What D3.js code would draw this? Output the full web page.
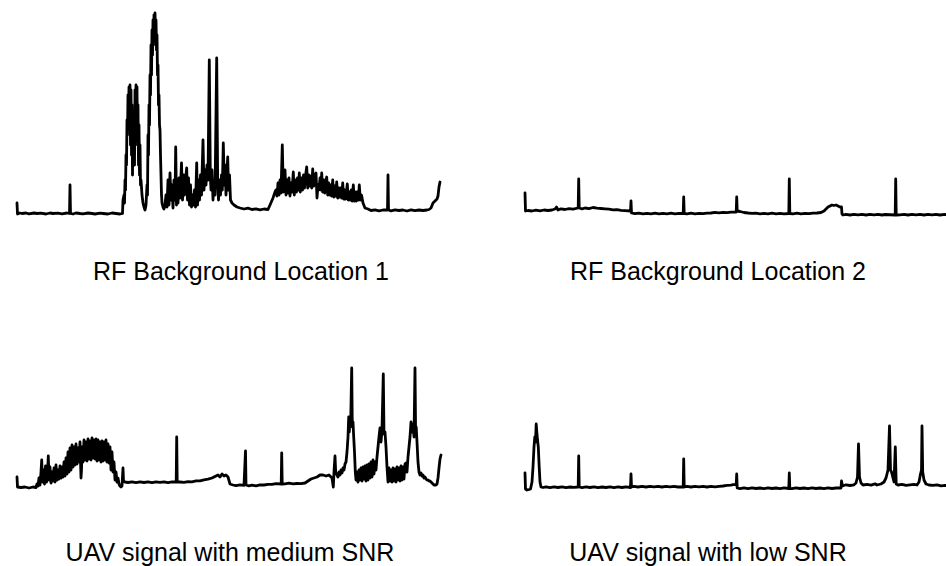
<!DOCTYPE html>
<html>
<head>
<meta charset="utf-8">
<script src="https://cdn.jsdelivr.net/npm/d3@7"></script>
<style>
  body { margin: 0; background: #fff; }
  svg { display: block; }
  .trace { fill: none; stroke: #000; stroke-width: 2.8; stroke-linejoin: round; stroke-linecap: round; }
  .caption { font-family: "Liberation Sans", Arial, sans-serif; font-size: 25px; fill: #000; text-anchor: middle; }
</style>
</head>
<body>
<div id="chart"></div>
<script>
// spectrum traces: [frequency bin, relative power]
const rfLocation1 = [
  [0,12],[0.5,1],[3,2],[5,1.5],[9,2],[12,1.2],[17,2],[20,1.5],[24,1.8],[29,1],[33,2],[36,1.5],[41,1.8],[45,1.2],[50,2],
  [52.5,1.5],[53,30],[53.5,1.5],[56,1],[59,2],[63,1.5],[66,1.2],[71,2],[75,1.5],[78,1],[83,1.8],[86,1.5],[91,1],[95,2],
  [99,1.5],[103,1],[105.5,1.5],[106,15],[107,20],[107.5,12],[108,35],[108.5,25],[109,60],[109.5,50],[110,95],
  [110.5,80],[111,120],[111.5,100],[112,128],[112.5,90],[113,130],[113.5,70],[114,125],[114.5,60],[115,110],
  [115.5,40],[116,95],[116.5,60],[117,100],[117.5,50],[118,125],[118.5,80],[119,130],[119.5,90],[120,128],
  [120.5,70],[121,110],[121.5,50],[122,90],[122.5,40],[123,70],[123.5,30],[124,35],[125,20],[126,12],[127,8],
  [128,5],[129,10],[130,30],[130.5,20],[131,80],[131.5,60],[132,110],[132.5,90],[133,140],[133.5,120],[134,170],
  [134.5,140],[135,185],[135.5,160],[136,195],[136.5,170],[137,200],[137.5,185],[138,202],[138.5,180],[139,195],
  [139.5,165],[140,180],[140.5,140],[141,150],[141.5,110],[142,120],[142.5,90],[143,85],[143.5,60],[144,40],
  [144.5,20],[145,12],[146,8],[147,6],[148,10],[149,20],[150,8],[151,35],[152,10],[153,42],[154,15],[155,30],
  [156,7],[157,35],[158,15],[158.7,68],[159.5,10],[160,30],[161,12],[162,37],[163,17],[164.5,52],[165.5,15],
  [166.5,40],[167.5,20],[168.5,35],[169.7,47],[170.5,15],[171.5,37],[172.5,10],[173.5,30],[174.5,8],[175.5,20],
  [176.5,10],[177.5,25],[178.5,8],[179.7,52],[180.5,10],[181.5,35],[182.5,15],[183.5,40],[184.5,20],[186,75],
  [187,25],[188,45],[189,30],[190,50],[191,35],[192.3,155],[193.3,40],[194,25],[195,45],[196,15],[197,35],
  [198,20],[199.7,157],[200.7,30],[201.5,15],[202.5,35],[203.5,20],[204.5,40],[205.3,25],[206.3,72],[207.3,30],
  [208,50],[209,20],[210.7,58],[211.5,25],[212.5,40],[213.5,15],[215,12],[217,10],[220,8],[223,7],[227,6],
  [231,6.8],[235,5.5],[239,6.2],[243,5.2],[247,6],[251,5.5],[253,10],[256,17],[258,23],[259,25],[260,19],[261,32],[262,20],
  [263,35],[264,22],[265.3,70],[266.3,23],[267,37],[268,45],[269,20],[270,35],[271,22],[272,37],[273,19],[274,32],
  [275,23],[276.3,43],[277.3,20],[278.5,35],[279.5,23],[280.5,37],[281.5,25],[282.3,42],[283.3,23],[284.5,37],
  [285.5,25],[286.5,40],[287.5,27],[288.5,39],[289.7,48],[290.7,27],[291.7,40],[292.7,29],[293.7,39],[294.7,27],
  [295.7,46],[296.7,29],[297.7,39],[299,42],[300,17],[301,30],[302,25],[303,37],[304,25],[304.7,42],[305.7,23],
  [306.7,35],[307.7,22],[308.7,33],[309.7,38],[310.7,20],[311.7,32],[312.7,20],[313.7,30],[314.7,19],[315.7,35],
  [316.7,18],[317.7,29],[318.7,19],[319.7,33],[320.7,17],[321.7,27],[322.7,18],[323.7,27],[324.7,17],[325.7,32],
  [326.7,16],[327.7,25],[328.7,16],[330.3,31],[331.3,15],[332.3,23],[333.3,15],[334.3,25],[335.3,14],[336.3,30],
  [337.3,14],[338.3,23],[339.3,14],[340.3,23],[341.3,15],[342.3,30],[343.3,15],[344.5,20],[346,12],[348,7],
  [351,6],[354,4.5],[358,5.2],[362,4.2],[366,5],[370.5,5],[371,40],[371.5,5],[374,4.2],[378,5.2],[382,4.5],[386,5],
  [390,4],[394,5.2],[398,4.3],[402,5],[406,4.5],[410,5],[412,5.5],[414,7],[416,12],[418,14],[420,16],[421,19],[422,28],[423,33]
];

const rfLocation2 = [
  [0,22],[0.5,4],[3,4.5],[7,4],[11,4.8],[15,4.2],[19,5],[23,4.5],[27,5],[30,6],[31.5,8],[33,5],[36,6.2],[40,5.5],
  [44,6.3],[48,5.8],[53.2,7],[53.7,36],[54.2,7],[57,6.2],[60,7],[64,6.3],[68,7.5],[72,6.8],[76,6.5],[80,6.2],[84,5.8],[88,5.2],
  [92,5.3],[96,4.6],[100,4.4],[105.5,4],[106,14],[106.5,2],[110,1.3],[114,1.8],[118,1.2],[122,1.7],[126,1.1],[130,1.8],
  [134,1.2],[138,1.7],[142,1.1],[146,1.8],[150,1.2],[154,1.6],[158.2,1.5],[158.7,18],[159.2,1.5],[162,1.2],[166,1.8],
  [170,1.2],[174,1.7],[178,1.3],[182,1.8],[186,2],[190,2.6],[194,2.2],[198,2.7],[202,2.3],[206,2.8],[211.2,3],[211.7,18],
  [212.2,4],[215,3.5],[219,2.5],[223,2],[227,1.6],[231,1.8],[235,1.2],[239,1.7],[243,1.2],[247,1.8],[251,1.2],[255,1.6],
  [259,1.2],[263.8,1.5],[264.3,36],[264.8,1.5],[268,1.2],[272,1.8],[276,1.2],[280,1.7],[284,1.3],[288,1.8],[292,2],
  [296,2.5],[299,4],[301,6],[303,8],[305,9],[307,10],[309,9.5],[311,10],[313,9],[315,8],[316.5,8],[317,1],[318,0],
  [321,0.6],[325,0],[329,0.7],[333,0.1],[337,0.6],[341,0],[345,0.7],[349,0.1],[353,0.6],[357,0],[360,0.5],[370.2,0],
  [370.7,36],[371.2,0],[375,0.2],[379,0.7],[383,0],[387,0.6],[391,0.1],[395,0.7],[399,0],[403,0.6],[407,0.1],[411,0.7],
  [415,0],[420,0.6],[424,0]
];

const uavMediumSnr = [
  [0,15],[0.5,5],[4,4.5],[8,5],[12,4],[16,5],[19,4.5],[20,8],[21,6],[22,14],[23,7],[24,20],[24.7,32],[25.5,10],
  [26.5,22],[27.5,8],[28.5,26],[29.5,10],[30.5,18],[31.3,36],[32,12],[33,25],[34,9],[35,20],[36,11],[37,24],
  [38,10],[39,27],[40,12],[41,22],[42,13],[43,26],[44,14],[45,25],[46,15],[47,30],[48,16],[49,34],[50,18],[51,40],
  [52,20],[53,44],[54,22],[55,47],[56,25],[57,45],[58,27],[59,48],[60,28],[61,44],[62,30],[63,50],[64,14],
  [64.5,22],[65,45],[66,30],[67,52],[68,32],[69,50],[70,31],[71,53],[72,33],[73,51],[74,32],[75,54],[76,34],
  [77,52],[78,33],[79,53],[80,31],[81,52],[82,32],[83,50],[84,30],[85,51],[86,31],[87,50],[88,32],[89,52],[90,30],
  [91,48],[92,29],[93,45],[94,22],[95,40],[96,20],[97,30],[98,12],[99,20],[100,10],[101,14],[102,8],[103,6],
  [104,5],[105,6],[106,24],[106.5,11],[108,10],[111,9.5],[115,10.2],[119,9.3],[123,10.2],[127,9.5],[131,10.1],[135,9.3],
  [139,10.2],[143,9.6],[147,10.2],[151,9.4],[155,10.1],[159.2,10],[159.7,55],[160.2,10],[163,10],[167,9.6],[171,10.3],
  [175,10.2],[179,11.2],[183,11.1],[187,12.2],[191,12.8],[195,14],[199,16],[201,17],[203,15],[205,18],[207,16],[209,17],
  [211,15],[213,8],[216,7],[219,6.3],[223,7.2],[227,6.6],[228.5,41],[229,7],[232,6.2],[235,6.8],[239,6.2],[243,7.2],
  [247,7],[251,7.7],[255,7.6],[259,8.3],[264.2,8],[264.7,39],[265.2,8],[268,8.2],[272,8.8],[276,8.1],[280,8.5],[284,8.3],
  [288,9],[291,11],[294,13],[297,14],[300,15],[303,17],[306,17],[309,16],[312,17],[315,14],[316.3,5],[317,20],
  [318,36],[318.7,20],[319.5,18],[321,15],[322,20],[323,17],[324,22],[325,19],[326,24],[327,22],[328,28],[329,30],
  [330,40],[331,55],[331.7,75],[332.3,60],[333,72],[333.7,70],[334.7,124],[335.3,65],[336,70],[336.7,55],
  [337.5,40],[338.3,20],[339,12],[340,20],[341,10],[342,22],[343,12],[344,24],[345,11],[346,25],[347,13],[348,26],
  [349,11],[350,27],[351,12],[352,28],[353,14],[354,30],[355,15],[356,32],[357,18],[358,30],[359,22],[360,35],
  [361,45],[362,55],[363,64],[364,50],[365,62],[366.3,118],[367,58],[368,60],[369,45],[370,25],[371,10],[372,24],
  [373,11],[374,22],[375,10],[376,24],[377,11],[378,23],[379,10],[380,25],[381,12],[382,24],[383,11],[384,26],
  [385,12],[386,25],[387,13],[388,28],[389,29],[390,20],[391,35],[392,45],[393,55],[394,70],[395,60],[396,68],
  [397,55],[398,124],[398.6,60],[399.2,65],[400,50],[401,30],[402,20],[403,17],[404,19],[405,16],[406,17],[407,14],
  [408,15],[409,13],[410,12],[411,12],[412,11],[413,11],[414,10],[415,9],[416,8],[417,7],[418,7],[419,7],[420,8],
  [421,14],[422,24],[423,33],[424,37]
];

const uavLowSnr = [
  [0,19],[0.5,3],[2,2],[4,2.5],[5.5,3],[7,10],[8,25],[9,45],[9.8,55],[10.5,50],[11.2,68],[11.8,60],[12.5,52],
  [13.3,45],[14.2,25],[15,10],[16,5],[18,4.5],[21,5.2],[25,4.4],[29,5.1],[33,4.5],[37,5.2],[41,4.4],[45,5],[49,4.6],
  [53.2,5],[53.7,36],[54.2,5],[57,4.4],[61,5.1],[65,4.5],[69,5.2],[73,4.4],[77,5],[81,4.5],[85,5.2],[89,4.4],[93,5.1],
  [97,4.5],[101,5.1],[105.5,4.5],[106,18],[106.5,5],[109,5.6],[113,5],[117,5.7],[121,5],[125,5.6],[129,5.1],[133,5.7],
  [137,5],[141,5.6],[145,5.1],[149,5.7],[153,5],[158.2,5],[158.7,33],[159.2,5],[162,5.6],[166,5],[170,5.6],[174,5.1],
  [178,5.6],[182,5],[186,5.6],[190,5.2],[194,5.7],[198,6],[202,6.6],[206,6.8],[208,7.3],[210,7.4],[211.2,7],[211.7,18],
  [212.2,4],[215,3.4],[219,4.1],[223,3.4],[227,4.1],[231,3.5],[235,4],[239,3.4],[243,4.1],[247,3.5],[251,4],[255,3.4],
  [259,4.1],[263.8,3.5],[264.3,19],[264.8,3.5],[267,3.4],[271,4.1],[275,3.5],[279,4],[283,3.4],[287,4.1],[291,3.5],
  [295,4],[299,3.4],[303,4.1],[307,3.5],[311,4],[316,4],[316.5,11],[317.5,6],[321,7.2],[325,6.5],[329,7.2],[331,9],
  [332.5,15],[333.5,48],[334.5,15],[336,9],[338,7],[342,7.6],[346,6.9],[350,8.2],[352,7],[356,8],[359,10],[361,14],
  [362,18],[363,22],[364.5,66],[365.5,22],[366.5,20],[367.5,16],[369,10],[370.3,45],[371.2,8],[373,7],[377,7.6],
  [381,6.6],[385,7.2],[389,7.7],[392,7],[394,10],[395.5,18],[396.5,22],[397,66],[397.7,20],[399,12],[401,8],[404,7],
  [408,6.6],[412,7.1],[416,6.2],[420,6.7],[424,6]
];

const captions = [
  "RF Background Location 1",
  "RF Background Location 2",
  "UAV signal with medium SNR",
  "UAV signal with low SNR"
];

const width = 946;
const height = 566;

const panels = [
  { data: rfLocation1, left: 17, base: 215, label: captions[0], lx: 241, ly: 280 },
  { data: rfLocation2, left: 525, base: 215, label: captions[1], lx: 718, ly: 280 },
  { data: uavMediumSnr, left: 17, base: 492, label: captions[2], lx: 230, ly: 561 },
  { data: uavLowSnr, left: 525, base: 492, label: captions[3], lx: 708, ly: 561 }
];

const svg = d3.select("#chart")
  .append("svg")
  .attr("width", width)
  .attr("height", height);

panels.forEach(p => {
  const x = d3.scaleLinear().domain([0, 424]).range([p.left, p.left + 424]);
  const y = d3.scaleLinear().domain([0, 205]).range([p.base, p.base - 205]);

  const line = d3.line()
    .x(d => x(d[0]))
    .y(d => y(d[1]));

  svg.append("path")
    .datum(p.data)
    .attr("class", "trace")
    .attr("d", line);

  svg.append("text")
    .attr("class", "caption")
    .attr("x", p.lx)
    .attr("y", p.ly)
    .text(p.label);
});
</script>
</body>
</html>
